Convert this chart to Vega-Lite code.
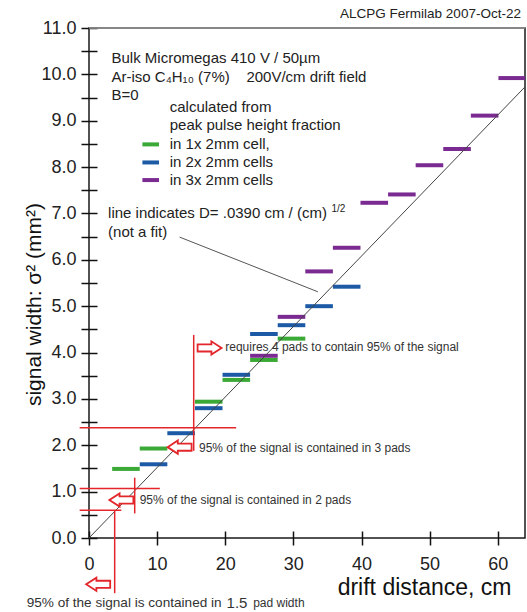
{
  "$schema": "https://vega.github.io/schema/vega-lite/v6.json",
  "width": 436,
  "height": 510,
  "autosize": {"type": "none"},
  "padding": {"left": 89, "top": 28, "right": 2, "bottom": 74},
  "background": "white",
  "config": {
    "view": {"stroke": "#1a1a1a", "strokeWidth": 1.5},
    "font": "Liberation Sans",
    "text": {"font": "Liberation Sans"}
  },
  "datasets": {
    "segs": [
      {"s": "1x", "x": 3.4, "x2": 7.45, "y": 1.49},
      {"s": "1x", "x": 7.45, "x2": 11.5, "y": 1.93},
      {"s": "1x", "x": 15.55, "x2": 19.6, "y": 2.94},
      {"s": "1x", "x": 19.6, "x2": 23.65, "y": 3.41},
      {"s": "1x", "x": 23.65, "x2": 27.7, "y": 3.84},
      {"s": "1x", "x": 27.7, "x2": 31.75, "y": 4.30},
      {"s": "2x", "x": 7.45, "x2": 11.5, "y": 1.59},
      {"s": "2x", "x": 11.5, "x2": 15.55, "y": 2.26},
      {"s": "2x", "x": 15.55, "x2": 19.6, "y": 2.80},
      {"s": "2x", "x": 19.6, "x2": 23.65, "y": 3.52},
      {"s": "2x", "x": 23.65, "x2": 27.7, "y": 4.40},
      {"s": "2x", "x": 27.7, "x2": 31.75, "y": 4.59},
      {"s": "2x", "x": 31.75, "x2": 35.8, "y": 5.00},
      {"s": "2x", "x": 35.8, "x2": 39.85, "y": 5.42},
      {"s": "3x", "x": 23.65, "x2": 27.7, "y": 3.93},
      {"s": "3x", "x": 27.7, "x2": 31.75, "y": 4.77},
      {"s": "3x", "x": 31.75, "x2": 35.8, "y": 5.75},
      {"s": "3x", "x": 35.8, "x2": 39.85, "y": 6.26},
      {"s": "3x", "x": 39.85, "x2": 43.9, "y": 7.23},
      {"s": "3x", "x": 43.9, "x2": 47.95, "y": 7.41},
      {"s": "3x", "x": 47.95, "x2": 52.0, "y": 8.04},
      {"s": "3x", "x": 52.0, "x2": 56.05, "y": 8.39},
      {"s": "3x", "x": 56.05, "x2": 60.1, "y": 9.11},
      {"s": "3x", "x": 60.1, "x2": 64.0, "y": 9.92}
    ],
    "keys": [
      {"s": "1x", "x": 7.84, "x2": 10.28, "y": 8.49},
      {"s": "2x", "x": 7.84, "x2": 10.28, "y": 8.10},
      {"s": "3x", "x": 7.84, "x2": 10.28, "y": 7.72}
    ],
    "diag": [{"x": 0, "y": 0, "x2": 64, "y2": 9.73}],
    "pointer": [{"x": 13.3, "y": 6.49, "x2": 33.6, "y2": 5.31}],
    "topline": [{"x": 0, "x2": 64, "y": 11}],
    "red": [
      {"x": -1.37, "x2": 21.6, "y": 2.38, "y2": 2.38},
      {"x": 15.37, "x2": 15.37, "y": 1.88, "y2": 4.38},
      {"x": -1.37, "x2": 10.4, "y": 1.07, "y2": 1.07},
      {"x": 6.71, "x2": 6.71, "y": 0.53, "y2": 1.30},
      {"x": -1.37, "x2": 4.75, "y": 0.60, "y2": 0.60},
      {"x": 3.77, "x2": 3.77, "y": -1.19, "y2": 0.60}
    ],
    "arrows": [
      {"dir": "right", "x": 17.7, "y": 4.1},
      {"dir": "left", "x": 13.3, "y": 1.96},
      {"dir": "left", "x": 4.75, "y": 0.82},
      {"dir": "left", "x": 1.35, "y": -1.0}
    ],
    "texts": [
      {"kind": "legend", "t": "Bulk Micromegas 410 V / 50µm", "x": 3.3, "y": 10.35},
      {"kind": "legend", "t": "Ar-iso C₄H₁₀ (7%)\u00a0\u00a0\u00a0\u00a0200V/cm drift field", "x": 3.3, "y": 9.95},
      {"kind": "legend", "t": "B=0", "x": 3.3, "y": 9.56},
      {"kind": "legend", "t": "calculated from", "x": 11.85, "y": 9.30},
      {"kind": "legend", "t": "peak pulse height fraction", "x": 11.85, "y": 8.91},
      {"kind": "legend", "t": "in 1x 2mm cell,", "x": 11.85, "y": 8.49},
      {"kind": "legend", "t": "in 2x 2mm cells", "x": 11.85, "y": 8.10},
      {"kind": "legend", "t": "in 3x 2mm cells", "x": 11.85, "y": 7.72},
      {"kind": "legend", "t": "line indicates D= .0390 cm / (cm)", "x": 2.8, "y": 7.0},
      {"kind": "legend", "t": "(not a fit)", "x": 2.8, "y": 6.61},
      {"kind": "sup", "t": "1/2", "x": 35.6, "y": 7.1},
      {"kind": "note", "t": "requires 4 pads to contain 95% of the signal", "x": 20.0, "y": 4.11},
      {"kind": "note", "t": "95% of the signal is contained in 3 pads", "x": 16.15, "y": 1.95},
      {"kind": "note", "t": "95% of the signal is contained in 2 pads", "x": 7.44, "y": 0.82},
      {"kind": "bottom", "t": "95% of the signal is contained in", "x": -9.15, "y": -1.41},
      {"kind": "note", "t": "pad width", "x": 24.1, "y": -1.41},
      {"kind": "big", "t": "1.5", "x": 20.2, "y": -1.41},
      {"kind": "header", "t": "ALCPG Fermilab 2007-Oct-22", "x": 63.4, "y": 11.3}
    ]
  },
  "encoding": {
    "x": {
      "field": "x", "type": "quantitative",
      "scale": {"domain": [0, 64], "nice": false, "zero": false},
      "axis": {
        "title": "drift distance, cm",
        "values": [0, 10, 20, 30, 40, 50, 60],
        "format": "d",
        "offset": -7, "tickSize": 14, "tickWidth": 1.5, "tickColor": "#111",
        "domain": false, "grid": false,
        "labelFontSize": 18, "labelColor": "#222", "labelPadding": 10,
        "labelFlush": false, "labelOverlap": false,
        "titleFontSize": 23, "titleFontWeight": "normal", "titleColor": "#111",
        "titleX": 422, "titleAlign": "right", "titlePadding": 3
      }
    },
    "y": {
      "field": "y", "type": "quantitative",
      "scale": {"domain": [0, 11], "nice": false, "zero": false},
      "axis": {
        "title": "signal width: σ² (mm²)",
        "values": [0, 0.5, 1, 1.5, 2, 2.5, 3, 3.5, 4, 4.5, 5, 5.5, 6, 6.5, 7, 7.5, 8, 8.5, 9, 9.5, 10, 10.5, 11],
        "labelExpr": "datum.value % 1 == 0 ? format(datum.value, '.1f') : ''",
        "offset": -8, "tickSize": 16, "tickWidth": 1.5, "tickColor": "#111",
        "domain": false, "grid": false,
        "labelFontSize": 18, "labelColor": "#222", "labelPadding": 5,
        "labelFlush": false, "labelOverlap": false,
        "titleFontSize": 21, "titleFontWeight": "normal", "titleColor": "#111",
        "titlePadding": -4, "titleY": 276
      }
    }
  },
  "layer": [
    {
      "data": {"name": "topline"},
      "mark": {"type": "rule", "color": "#9a9a9a", "strokeWidth": 1.5},
      "encoding": {"x2": {"field": "x2"}}
    },
    {
      "data": {"name": "segs"},
      "mark": {"type": "rule", "strokeWidth": 4},
      "encoding": {
        "x2": {"field": "x2"},
        "color": {"field": "s", "type": "nominal", "scale": {"domain": ["1x", "2x", "3x"], "range": ["#3aa935", "#1c5aa6", "#7a2a90"]}, "legend": null}
      }
    },
    {
      "data": {"name": "keys"},
      "mark": {"type": "rule", "strokeWidth": 4},
      "encoding": {
        "x2": {"field": "x2"},
        "color": {"field": "s", "type": "nominal", "scale": {"domain": ["1x", "2x", "3x"], "range": ["#3aa935", "#1c5aa6", "#7a2a90"]}, "legend": null}
      }
    },
    {
      "data": {"name": "diag"},
      "mark": {"type": "rule", "color": "#444", "strokeWidth": 1},
      "encoding": {"x2": {"field": "x2"}, "y2": {"field": "y2"}}
    },
    {
      "data": {"name": "pointer"},
      "mark": {"type": "rule", "color": "#555", "strokeWidth": 1},
      "encoding": {"x2": {"field": "x2"}, "y2": {"field": "y2"}}
    },
    {
      "data": {"name": "red"},
      "mark": {"type": "rule", "color": "#e3262b", "strokeWidth": 1.5},
      "encoding": {"x2": {"field": "x2"}, "y2": {"field": "y2"}}
    },
    {
      "data": {"name": "arrows"},
      "mark": {"type": "point", "fill": "white", "stroke": "#e3262b", "strokeWidth": 1.8, "size": 576, "opacity": 1, "fillOpacity": 1, "strokeOpacity": 1},
      "encoding": {
        "shape": {"field": "dir", "type": "nominal", "scale": {"domain": ["right", "left"], "range": ["M -1 -0.3 L 0.15 -0.3 L 0.15 -0.55 L 1 0 L 0.15 0.55 L 0.15 0.3 L -1 0.3 Z", "M 1 -0.3 L -0.15 -0.3 L -0.15 -0.55 L -1 0 L -0.15 0.55 L -0.15 0.3 L 1 0.3 Z"]}, "legend": null}
      }
    },
    {
      "data": {"name": "texts"},
      "transform": [{"filter": "datum.kind == 'legend'"}],
      "mark": {"type": "text", "fontSize": 15, "align": "left", "baseline": "middle", "color": "#222"},
      "encoding": {"text": {"field": "t"}}
    },
    {
      "data": {"name": "texts"},
      "transform": [{"filter": "datum.kind == 'sup'"}],
      "mark": {"type": "text", "fontSize": 10, "align": "left", "baseline": "middle", "color": "#222"},
      "encoding": {"text": {"field": "t"}}
    },
    {
      "data": {"name": "texts"},
      "transform": [{"filter": "datum.kind == 'note'"}],
      "mark": {"type": "text", "fontSize": 12, "align": "left", "baseline": "middle", "color": "#333"},
      "encoding": {"text": {"field": "t"}}
    },
    {
      "data": {"name": "texts"},
      "transform": [{"filter": "datum.kind == 'bottom'"}],
      "mark": {"type": "text", "fontSize": 13.6, "align": "left", "baseline": "middle", "color": "#333"},
      "encoding": {"text": {"field": "t"}}
    },
    {
      "data": {"name": "texts"},
      "transform": [{"filter": "datum.kind == 'big'"}],
      "mark": {"type": "text", "fontSize": 15, "align": "left", "baseline": "middle", "color": "#333"},
      "encoding": {"text": {"field": "t"}}
    },
    {
      "data": {"name": "texts"},
      "transform": [{"filter": "datum.kind == 'header'"}],
      "mark": {"type": "text", "fontSize": 13.5, "align": "right", "baseline": "middle", "color": "#222"},
      "encoding": {"text": {"field": "t"}}
    }
  ]
}
